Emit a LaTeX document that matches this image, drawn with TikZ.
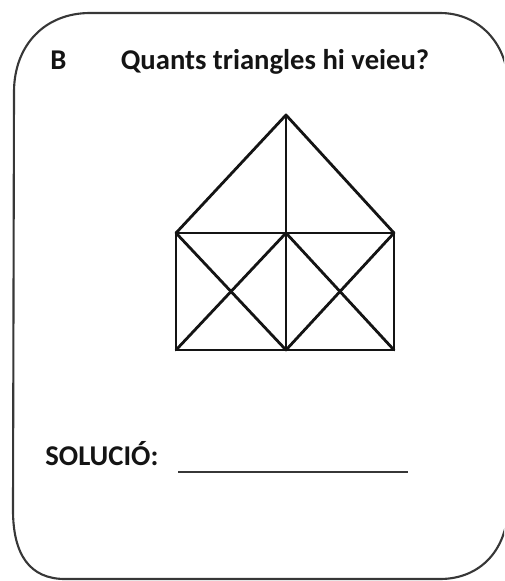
\documentclass[tikz,border=0pt]{standalone}
\usepackage{fontspec}
\setmainfont{Carlito}
\usepackage{tikz}
\usetikzlibrary{positioning}
\definecolor{CardGray}{RGB}{55,55,55}
\definecolor{InkBlack}{RGB}{20,20,20}

\begin{document}
\begin{tikzpicture}[x=0.02cm, y=-0.02cm,
      edge/.style={draw=InkBlack, line width=1.6pt, line cap=round, line join=round},
      card/.style={draw=CardGray, line width=1.2pt},
      lbl/.style={font=\fontsize{16.3}{19}\selectfont\bfseries, text=InkBlack, inner sep=0pt}
    ]
    \useasboundingbox (0,0) rectangle (504,581);

    % rounded card border (runs off the right edge)
    \begin{scope}
      \clip (0,0) rectangle (504,581);
      \draw[card] (90,13) -- (440,13) .. controls (480,13) and (508,45) .. (508,85)
        -- (508,505) .. controls (508,550) and (480,579) .. (440,579)
        -- (65,579) .. controls (30,579) and (13,555) .. (13,510)
        -- (14,92) .. controls (14,45) and (45,13) .. (90,13) -- cycle;
    \end{scope}

    \node[lbl, anchor=base west] (tag)   at (50,70)  {B};
    \node[lbl, anchor=base]      (title) at (275,70) {Quants triangles hi veieu?};

    % house corners
    \coordinate (apex) at (286,115);
    \coordinate (tl) at (176,233);
    \coordinate (tm) at (286,233);
    \coordinate (tr) at (394,233);
    \coordinate (bl) at (176,350);
    \coordinate (bm) at (286,350);
    \coordinate (br) at (394,350);

    \draw[edge] (tl) -- (apex) -- (tr);
    \draw[edge] (tl) -- (tr) -- (br) -- (bl) -- cycle;
    \draw[edge] (apex) -- (bm);
    \foreach \a/\b in {tl/bm, tm/bl, tm/br, tr/bm}{
      \draw[edge] (\a) -- (\b);
    }

    \node[lbl, anchor=base west] (sol) at (45,465) {SOLUCIÓ:};
    \coordinate (lineL) at (178,472);
    \coordinate (lineR) at (408,472);
    \draw[draw=CardGray, line width=1.5pt] (lineL) -- (lineR);
  \end{tikzpicture}
\end{document}
